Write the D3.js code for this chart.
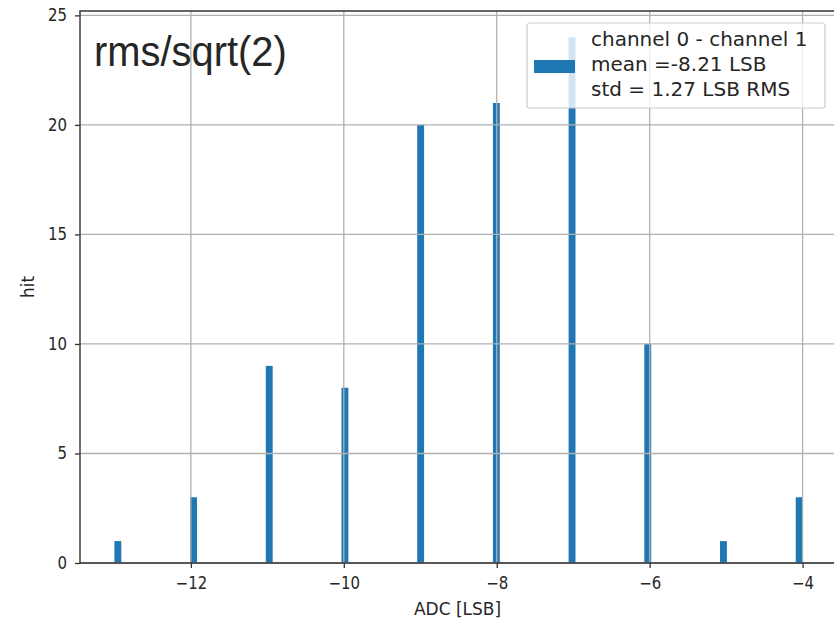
<!DOCTYPE html>
<html>
<head>
<meta charset="utf-8">
<script src="https://cdn.jsdelivr.net/npm/d3@7"></script>
<style>
  body { margin: 0; background: #fff; }
  text { fill: #262626; }
</style>
</head>
<body>
<svg id="chart" width="834" height="620"></svg>
<script>
// histogram data: ADC value difference and hit counts
const adcValues = [-13, -12, -11, -10, -9, -8, -7, -6, -5, -4];
const hits      = [1, 3, 9, 8, 20, 21, 24, 10, 1, 3];
const nBins = 100;
const xTicks = [-12, -10, -8, -6, -4];
const yTicks = [0, 5, 10, 15, 20, 25];
const legendLines = ["channel 0 - channel 1", "mean =-8.21 LSB", "std = 1.27 LSB RMS"];
const titleText = "rms/sqrt(2)";

const svg = d3.select("#chart");
const plot = { left: 80, right: 837, top: 11, bottom: 563 };
const dejavu = "'DejaVu Sans', sans-serif";

// bins like numpy histogram over [min, max]
const lo = d3.min(adcValues), hi = d3.max(adcValues);
const binW = (hi - lo) / nBins;
const bars = adcValues.map((v, i) => {
    const k = Math.min(nBins - 1, Math.floor((v - lo) / binW + 1e-9));
    return { x0: lo + k * binW, x1: lo + (k + 1) * binW, n: hits[i] };
});

const pad = 0.05 * (hi - lo);
const xScale = d3.scaleLinear().domain([lo - pad, hi + pad]).range([plot.left, plot.right]);
const yScale = d3.scaleLinear().domain([0, d3.max(hits) * 1.05]).range([plot.bottom, plot.top]);

// bars
svg.append("g").selectAll("rect")
    .data(bars)
    .join("rect")
    .attr("x", d => xScale(d.x0))
    .attr("width", d => xScale(d.x1) - xScale(d.x0))
    .attr("y", d => yScale(d.n))
    .attr("height", d => yScale(0) - yScale(d.n))
    .attr("fill", "#1f77b4");

// grid (drawn above the bars, like matplotlib's default)
const grid = svg.append("g").attr("stroke", "#b0b0b0").attr("stroke-width", 1.3);
grid.selectAll(".gx").data(xTicks).join("line")
    .attr("x1", d => xScale(d)).attr("x2", d => xScale(d))
    .attr("y1", plot.top).attr("y2", plot.bottom);
grid.selectAll(".gy").data(yTicks).join("line")
    .attr("x1", plot.left).attr("x2", plot.right)
    .attr("y1", d => yScale(d)).attr("y2", d => yScale(d));

// axes
const xAxis = svg.append("g")
    .attr("transform", `translate(0,${plot.bottom})`)
    .call(d3.axisBottom(xScale).tickValues(xTicks).tickSize(5).tickPadding(8).tickFormat(d3.format("d")));
const yAxis = svg.append("g")
    .attr("transform", `translate(${plot.left},0)`)
    .call(d3.axisLeft(yScale).tickValues(yTicks).tickSize(5).tickPadding(8).tickFormat(d3.format("d")));

[xAxis, yAxis].forEach(ax => {
    ax.select(".domain").remove();
    ax.selectAll(".tick line").attr("stroke", "#333").attr("stroke-width", 1.3);
    ax.selectAll(".tick text")
        .attr("font-size", 17)
        .style("font-family", dejavu)
        .attr("fill", "#262626");
});
xAxis.selectAll(".tick text").attr("transform", "scale(0.88,1)").attr("dy", "0.78em");
yAxis.selectAll(".tick text").attr("x", 0).attr("transform", "translate(-13,0) scale(0.88,1)");

// spines (left, top, bottom; right one falls outside the picture)
const spines = svg.append("g").attr("stroke", "#333").attr("stroke-width", 1.4).attr("fill", "none");
spines.append("path")
    .attr("d", `M${plot.right},${plot.top}H${plot.left}V${plot.bottom}H${plot.right}`);

// title inside plot
svg.append("text")
    .attr("transform", "translate(94,66) scale(0.95,1)")
    .style("font-family", "'Liberation Sans', Arial, sans-serif")
    .attr("font-size", 42)
    .text(titleText);

// axis labels
svg.append("text")
    .attr("x", (plot.left + plot.right) / 2 - 1)
    .attr("y", 615)
    .attr("text-anchor", "middle")
    .style("font-family", dejavu)
    .attr("font-size", 17)
    .text("ADC [LSB]");

svg.append("text")
    .attr("transform", `translate(34,${(plot.top + plot.bottom) / 2}) rotate(-90)`)
    .attr("text-anchor", "middle")
    .style("font-family", dejavu)
    .attr("font-size", 17)
    .text("hit");

// legend
const leg = svg.append("g");
leg.append("rect")
    .attr("x", 527).attr("y", 23)
    .attr("width", 298).attr("height", 85)
    .attr("rx", 3)
    .attr("fill", "#fff").attr("fill-opacity", 0.8)
    .attr("stroke", "#cccccc").attr("stroke-width", 1.2);
leg.append("rect")
    .attr("x", 534).attr("y", 60)
    .attr("width", 41).attr("height", 13)
    .attr("fill", "#1f77b4");
leg.selectAll(".lt").data(legendLines).join("text")
    .attr("transform", (d, i) => `translate(591,${46 + i * 25})`)
    .style("font-family", dejavu)
    .attr("font-size", 20)
    .text(d => d);
</script>
</body>
</html>
